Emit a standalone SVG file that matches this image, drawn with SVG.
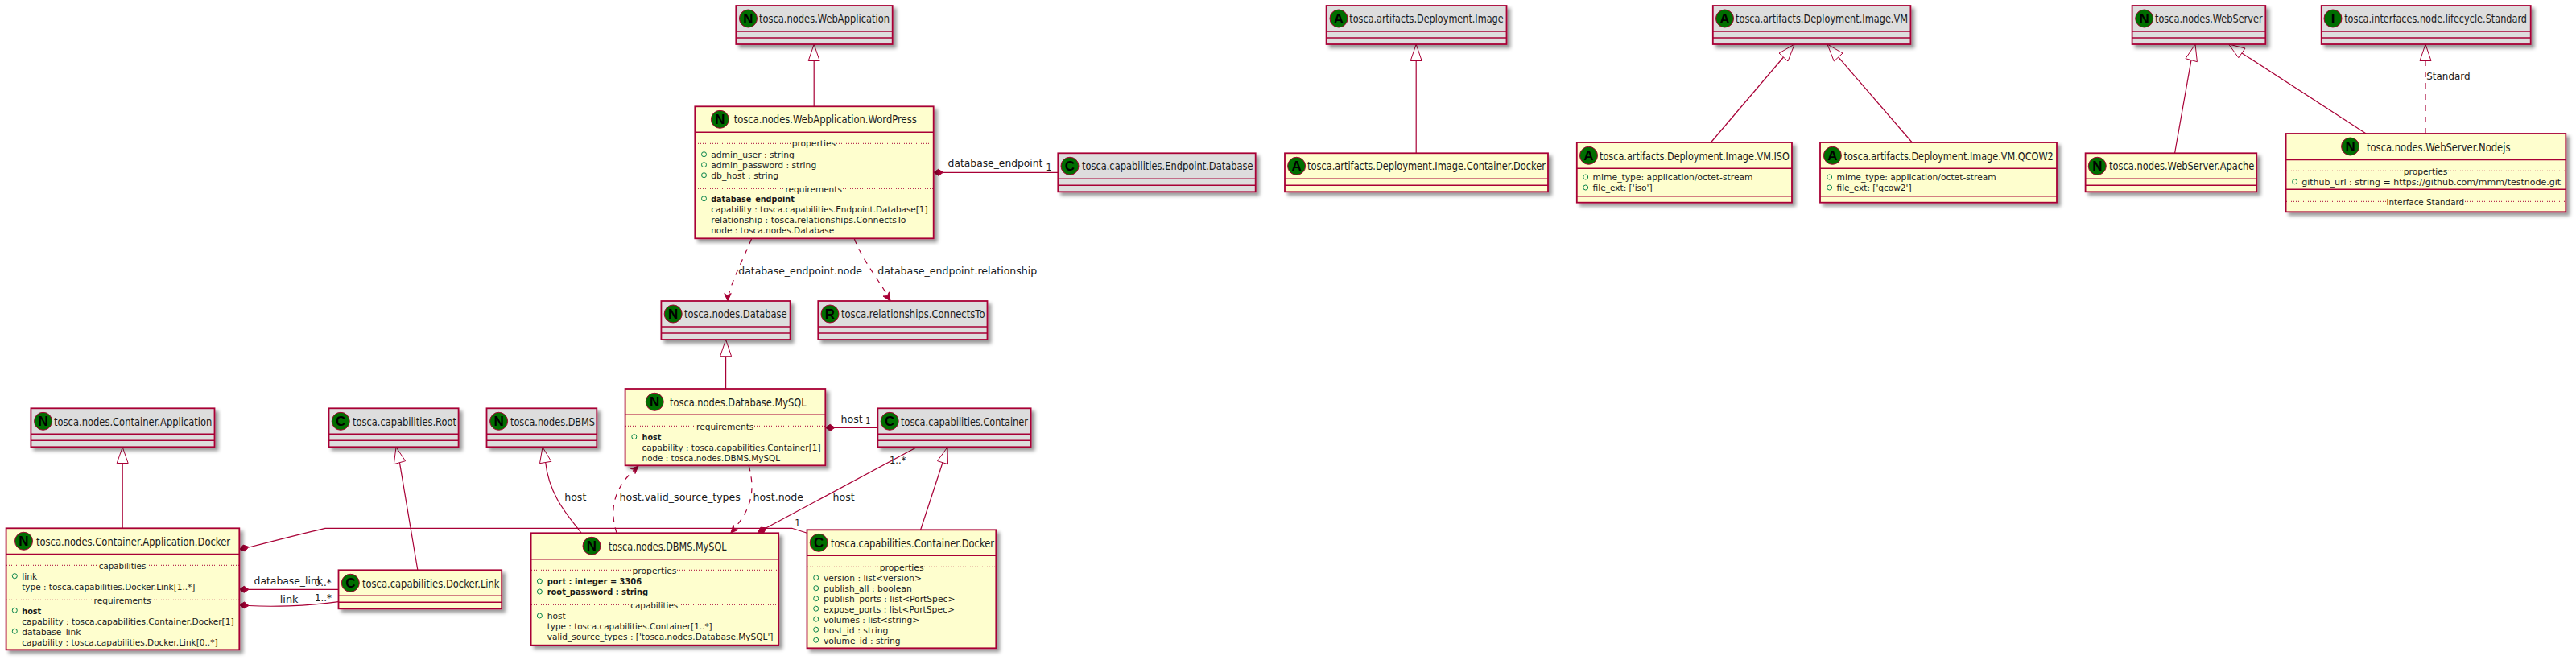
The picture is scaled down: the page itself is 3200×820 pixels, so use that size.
<svg xmlns="http://www.w3.org/2000/svg" width="3200" height="820" viewBox="0 0 3200 820">
<defs>
<filter id="sh" x="-5%" y="-10%" width="115%" height="130%"><feGaussianBlur in="SourceAlpha" stdDeviation="2" result="b"/><feColorMatrix in="b" type="matrix" values="0 0 0 0 0 0 0 0 0 0 0 0 0 0 0 0 0 0 0.4 0" result="c"/><feOffset in="c" dx="4" dy="4" result="o"/><feBlend in="SourceGraphic" in2="o" mode="normal"/></filter>
</defs>
<style>
.y,.g{stroke:#A80036;stroke-width:1.8;filter:url(#sh)}
.y{fill:#FEFECE}.g{fill:#DDDDDD}
.s{stroke:#A80036;stroke-width:1.6;fill:none}
.d{stroke:#A80036;stroke-width:1;stroke-dasharray:1,2;fill:none}
.o{fill:#006E00;stroke:#A80036;stroke-width:1}
text{font-family:"DejaVu Sans",Verdana,sans-serif;fill:#1a1a1a}
text.l{font:bold 17px "Liberation Sans",Arial,sans-serif;fill:#000;text-anchor:middle;transform:translateY(-1px)}
.t{font-size:14px}
.m{font-size:11px}
.b{font-size:11px;font-weight:bold}
.c{font-size:13px}
.p{fill:none;stroke:#038048;stroke-width:1}
.e{fill:none;stroke:#A80036;stroke-width:1.2}
.h{stroke-dasharray:7,7}
.w{fill:#FFFFFF;stroke:#A80036;stroke-width:1}
.f{fill:#A80036;stroke:#A80036;stroke-width:1}
</style>
<rect width="3200" height="820" fill="#FFFFFF"/>

<g id="connectors">
<path class="e" d="M1011.2,132 V75.5"/><polygon class="w" points="1011.2,55 1004.2,75.5 1018.2,75.5"/>
<path class="e" d="M1171.5,214.3 H1314"/><polygon class="f" points="1159.9,214.3 1165.7,210.3 1171.5,214.3 1165.7,218.3"/>
<text class="c" x="1177.6" y="207.3" textLength="117.8" lengthAdjust="spacingAndGlyphs">database_endpoint</text>
<text class="c" x="1299.5" y="211.7" textLength="7" lengthAdjust="spacingAndGlyphs">1</text>
<path class="e h" d="M933.7,296.5 C922,325 908,350 904,372"/><polygon class="f" points="904,374 899.8,364.5 904,367.5 908.2,364.5"/>
<text class="c" x="917.3" y="340.7" textLength="153.6" lengthAdjust="spacingAndGlyphs">database_endpoint.node</text>
<path class="e h" d="M1061.2,296.5 C1072,325 1095,352 1105,372"/><polygon class="f" points="1106,374 1097,368 1102.3,367.6 1104.5,362.8"/>
<text class="c" x="1090.3" y="340.7" textLength="198" lengthAdjust="spacingAndGlyphs">database_endpoint.relationship</text>

<path class="e" d="M152.2,656 V575.5"/><polygon class="w" points="152.2,555.5 145.2,575.5 159.2,575.5"/>
<path class="e" d="M518.8,708 L496.4,574.7"/><polygon class="w" points="492,555.5 489.3,576.7 503.6,572.7"/>
<path class="e" d="M722,662 C705,640 682,615 677.7,574.5"/><polygon class="w" points="674,555.5 670.5,575.7 684.8,573.3"/>
<text class="c" x="701.2" y="622.3" textLength="27.2" lengthAdjust="spacingAndGlyphs">host</text>

<path class="e" d="M309,680 C340,672 375,663 404,656.3 H983.8 L1002.5,662.3"/><polygon class="f" points="297.5,682.5 302.2,677.1 309,679.5 304.2,684.9"/>
<text class="c" x="987.3" y="654.3" textLength="7" lengthAdjust="spacingAndGlyphs">1</text>
<path class="e" d="M309,732.3 H420.5"/><polygon class="f" points="297.5,732.3 303.2,728.3 309,732.3 303.2,736.3"/>
<text class="c" x="315.6" y="726" textLength="85.3" lengthAdjust="spacingAndGlyphs">database_link</text>
<text class="c" x="390.6" y="728.3" textLength="21" lengthAdjust="spacingAndGlyphs">0..*</text>
<path class="e" d="M309,752.5 C335,754 380,753.5 420.5,747.7"/><polygon class="f" points="297.5,751.7 303.5,748 309,752.5 303.2,755.8"/>
<text class="c" x="347.8" y="749" textLength="22.7" lengthAdjust="spacingAndGlyphs">link</text>
<text class="c" x="391" y="746.7" textLength="21" lengthAdjust="spacingAndGlyphs">1..*</text>

<path class="e" d="M901.6,483 V442.7"/><polygon class="w" points="901.6,422 894.6,442.7 908.6,442.7"/>
<path class="e" d="M1037,531.3 H1090.4"/><polygon class="f" points="1025.5,531.3 1031.2,527.3 1037,531.3 1031.2,535.3"/>
<text class="c" x="1044.5" y="524.7" textLength="27.2" lengthAdjust="spacingAndGlyphs">host</text>
<text class="c" x="1075.3" y="527.3" textLength="6" lengthAdjust="spacingAndGlyphs">1</text>
<path class="e h" d="M766,662 C759,640 757,610 791,581"/><polygon class="f" points="793,579 789,588.5 788.5,583.5 783.5,582.5"/>
<text class="c" x="769.5" y="622.3" textLength="150.4" lengthAdjust="spacingAndGlyphs">host.valid_source_types</text>
<path class="e h" d="M930.2,578.5 C937,605 937,630 909,660"/><polygon class="f" points="907.9,662 911,652.3 912,657.3 917,658.3"/>
<text class="c" x="935.5" y="622.3" textLength="62.5" lengthAdjust="spacingAndGlyphs">host.node</text>
<path class="e" d="M1139,555.5 L952,655.8"/><polygon class="f" points="941.5,661.5 944.9,655.2 952,655.8 948.7,662.2"/>
<text class="c" x="1105" y="576" textLength="20.5" lengthAdjust="spacingAndGlyphs">1..*</text>
<text class="c" x="1034.6" y="622.3" textLength="27.2" lengthAdjust="spacingAndGlyphs">host</text>
<path class="e" d="M1143.6,658.3 L1171,574.7"/><polygon class="w" points="1177,555.5 1164.5,572.7 1177.5,576.7"/>

<path class="e" d="M1759.2,190 V75.5"/><polygon class="w" points="1759.2,55 1752.2,75.5 1766.2,75.5"/>
<path class="e" d="M2125.3,177 L2215.5,71"/><polygon class="w" points="2229.2,55 2210,66 2221,76"/>
<path class="e" d="M2375.3,177 L2283.7,71"/><polygon class="w" points="2270,55 2289,66 2278.3,76"/>
<path class="e" d="M2701.6,190 L2722,74.7"/><polygon class="w" points="2727,55 2715,72.7 2729.4,76.7"/>
<path class="e" d="M2939.2,166 L2785,66"/><polygon class="w" points="2768.6,55 2789,60 2780.8,71.7"/>
<path class="e h" d="M3013,166 V75.5"/><polygon class="w" points="3013,55 3006,75.5 3020,75.5"/>
<text class="c" x="3014.3" y="98.7" textLength="54.3" lengthAdjust="spacingAndGlyphs">Standard</text>
</g>

<g id="WebApplication">
<rect class="g" x="914.3" y="7" width="194.4" height="48"/><path class="s" d="M914.3,39 H1108.7 M914.3,47 H1108.7"/>
<circle class="o" cx="929.5" cy="23" r="11"/><text class="l" x="929.5" y="30">N</text>
<text class="t" x="943" y="28" textLength="162" lengthAdjust="spacingAndGlyphs">tosca.nodes.WebApplication</text>
</g>

<g id="WordPress">
<rect class="y" x="863.3" y="132.3" width="296.4" height="164"/><path class="s" d="M863.3,164.3 H1159.7"/>
<circle class="o" cx="894.4" cy="148.3" r="11"/><text class="l" x="894.4" y="155.3">N</text>
<text class="t" x="911.7" y="153.3" textLength="227" lengthAdjust="spacingAndGlyphs">tosca.nodes.WebApplication.WordPress</text>
<path class="d" d="M864,178.3 H983 M1039,178.3 H1159"/>
<text class="m" x="983.7" y="182.3" textLength="54.3" lengthAdjust="spacingAndGlyphs">properties</text>
<circle class="p" cx="874.5" cy="191.7" r="3"/><text class="m" x="883.2" y="196" textLength="103.6" lengthAdjust="spacingAndGlyphs">admin_user : string</text>
<circle class="p" cx="874.5" cy="204.7" r="3"/><text class="m" x="883.2" y="209" textLength="131" lengthAdjust="spacingAndGlyphs">admin_password : string</text>
<circle class="p" cx="874.5" cy="217.7" r="3"/><text class="m" x="883.2" y="222" textLength="84" lengthAdjust="spacingAndGlyphs">db_host : string</text>
<path class="d" d="M864,234.3 H975 M1047,234.3 H1159"/>
<text class="m" x="975.5" y="238.5" textLength="70.4" lengthAdjust="spacingAndGlyphs">requirements</text>
<circle class="p" cx="874.5" cy="246.7" r="3"/><text class="b" x="883.2" y="251" textLength="103.6" lengthAdjust="spacingAndGlyphs">database_endpoint</text>
<text class="m" x="883.2" y="264" textLength="269.4" lengthAdjust="spacingAndGlyphs">capability : tosca.capabilities.Endpoint.Database[1]</text>
<text class="m" x="883.2" y="277" textLength="242.3" lengthAdjust="spacingAndGlyphs">relationship : tosca.relationships.ConnectsTo</text>
<text class="m" x="883.2" y="290" textLength="153" lengthAdjust="spacingAndGlyphs">node : tosca.nodes.Database</text>
</g>

<g id="EndpointDatabase">
<rect class="g" x="1314.3" y="190.3" width="245.4" height="48"/><path class="s" d="M1314.3,222.3 H1559.7 M1314.3,230.3 H1559.7"/>
<circle class="o" cx="1329" cy="206.3" r="11"/><text class="l" x="1329" y="213.3">C</text>
<text class="t" x="1343.9" y="211.3" textLength="212.7" lengthAdjust="spacingAndGlyphs">tosca.capabilities.Endpoint.Database</text>
</g>

<g id="Database">
<rect class="g" x="821.4" y="374" width="160.2" height="48"/><path class="s" d="M821.4,406 H981.6 M821.4,414 H981.6"/>
<circle class="o" cx="836.2" cy="390" r="11"/><text class="l" x="836.2" y="397">N</text>
<text class="t" x="850" y="395" textLength="127.6" lengthAdjust="spacingAndGlyphs">tosca.nodes.Database</text>
</g>

<g id="ConnectsTo">
<rect class="g" x="1016.3" y="374" width="210.2" height="48"/><path class="s" d="M1016.3,406 H1226.5 M1016.3,414 H1226.5"/>
<circle class="o" cx="1031" cy="390" r="11"/><text class="l" x="1031" y="397">R</text>
<text class="t" x="1044.9" y="395" textLength="178.6" lengthAdjust="spacingAndGlyphs">tosca.relationships.ConnectsTo</text>
</g>

<g id="ContainerApplication">
<rect class="g" x="38.4" y="507.3" width="228.1" height="48"/><path class="s" d="M38.4,539.3 H266.5 M38.4,547.3 H266.5"/>
<circle class="o" cx="53.6" cy="523.3" r="11"/><text class="l" x="53.6" y="530.3">N</text>
<text class="t" x="67" y="528.5" textLength="196.4" lengthAdjust="spacingAndGlyphs">tosca.nodes.Container.Application</text>
</g>

<g id="CapabilitiesRoot">
<rect class="g" x="408.5" y="507.3" width="161.1" height="48"/><path class="s" d="M408.5,539.3 H569.6 M408.5,547.3 H569.6"/>
<circle class="o" cx="423.2" cy="523.3" r="11"/><text class="l" x="423.2" y="530.3">C</text>
<text class="t" x="438" y="528.5" textLength="129" lengthAdjust="spacingAndGlyphs">tosca.capabilities.Root</text>
</g>

<g id="DBMS">
<rect class="g" x="604.5" y="507.3" width="136.8" height="48"/><path class="s" d="M604.5,539.3 H741.3 M604.5,547.3 H741.3"/>
<circle class="o" cx="619.6" cy="523.3" r="11"/><text class="l" x="619.6" y="530.3">N</text>
<text class="t" x="634" y="528.5" textLength="105" lengthAdjust="spacingAndGlyphs">tosca.nodes.DBMS</text>
</g>

<g id="ApplicationDocker">
<rect class="y" x="7.6" y="656.3" width="289.7" height="151"/><path class="s" d="M7.6,688.5 H297.3"/>
<circle class="o" cx="29.5" cy="672.3" r="11"/><text class="l" x="29.5" y="679.3">N</text>
<text class="t" x="45" y="677.5" textLength="241" lengthAdjust="spacingAndGlyphs">tosca.nodes.Container.Application.Docker</text>
<path class="d" d="M8,702.3 H122 M182,702.3 H297"/>
<text class="m" x="122.8" y="706.5" textLength="58.5" lengthAdjust="spacingAndGlyphs">capabilities</text>
<circle class="p" cx="18.3" cy="715.7" r="3"/><text class="m" x="27.2" y="720" textLength="19.2" lengthAdjust="spacingAndGlyphs">link</text>
<text class="m" x="27.2" y="733" textLength="215.2" lengthAdjust="spacingAndGlyphs">type : tosca.capabilities.Docker.Link[1..*]</text>
<path class="d" d="M8,745.3 H116 M188,745.3 H297"/>
<text class="m" x="116.5" y="749.5" textLength="71" lengthAdjust="spacingAndGlyphs">requirements</text>
<circle class="p" cx="18.3" cy="758.3" r="3"/><text class="b" x="27.2" y="763" textLength="24.1" lengthAdjust="spacingAndGlyphs">host</text>
<text class="m" x="27.2" y="776" textLength="263.4" lengthAdjust="spacingAndGlyphs">capability : tosca.capabilities.Container.Docker[1]</text>
<circle class="p" cx="18.3" cy="784.3" r="3"/><text class="m" x="27.2" y="789" textLength="73.2" lengthAdjust="spacingAndGlyphs">database_link</text>
<text class="m" x="27.2" y="802" textLength="243.3" lengthAdjust="spacingAndGlyphs">capability : tosca.capabilities.Docker.Link[0..*]</text>
</g>

<g id="DockerLink">
<rect class="y" x="420.5" y="708.3" width="202.7" height="48"/><path class="s" d="M420.5,740.3 H623.2 M420.5,748.3 H623.2"/>
<circle class="o" cx="435.3" cy="724.3" r="11"/><text class="l" x="435.3" y="731.3">C</text>
<text class="t" x="450" y="729.5" textLength="170.5" lengthAdjust="spacingAndGlyphs">tosca.capabilities.Docker.Link</text>
</g>

<g id="DatabaseMySQL">
<rect class="y" x="776.6" y="483" width="248.7" height="95.3"/><path class="s" d="M776.6,515.3 H1025.3"/>
<circle class="o" cx="813.2" cy="499.3" r="11"/><text class="l" x="813.2" y="506.3">N</text>
<text class="t" x="832" y="504.5" textLength="169.6" lengthAdjust="spacingAndGlyphs">tosca.nodes.Database.MySQL</text>
<path class="d" d="M777,529.3 H864 M937,529.3 H1025"/>
<text class="m" x="865" y="533.5" textLength="71.4" lengthAdjust="spacingAndGlyphs">requirements</text>
<circle class="p" cx="787.8" cy="542.7" r="3"/><text class="b" x="797.6" y="547" textLength="23.7" lengthAdjust="spacingAndGlyphs">host</text>
<text class="m" x="797.6" y="560" textLength="221.9" lengthAdjust="spacingAndGlyphs">capability : tosca.capabilities.Container[1]</text>
<text class="m" x="797.6" y="573" textLength="171.4" lengthAdjust="spacingAndGlyphs">node : tosca.nodes.DBMS.MySQL</text>
</g>

<g id="Container">
<rect class="g" x="1090.4" y="507.3" width="190.2" height="48"/><path class="s" d="M1090.4,539.3 H1280.6 M1090.4,547.3 H1280.6"/>
<circle class="o" cx="1105.2" cy="523.3" r="11"/><text class="l" x="1105.2" y="530.3">C</text>
<text class="t" x="1119" y="528.5" textLength="158" lengthAdjust="spacingAndGlyphs">tosca.capabilities.Container</text>
</g>

<g id="DBMSMySQL">
<rect class="y" x="659.6" y="662.3" width="307.6" height="139.4"/><path class="s" d="M659.6,694.7 H967.2"/>
<circle class="o" cx="735" cy="678.3" r="11"/><text class="l" x="735" y="685.3">N</text>
<text class="t" x="756" y="683.5" textLength="146.5" lengthAdjust="spacingAndGlyphs">tosca.nodes.DBMS.MySQL</text>
<path class="d" d="M660,708.3 H785 M841,708.3 H967"/>
<text class="m" x="785.5" y="712.5" textLength="54.9" lengthAdjust="spacingAndGlyphs">properties</text>
<circle class="p" cx="670.4" cy="722" r="3"/><text class="b" x="679.7" y="726" textLength="117.4" lengthAdjust="spacingAndGlyphs">port : integer = 3306</text>
<circle class="p" cx="670.4" cy="735" r="3"/><text class="b" x="679.7" y="739" textLength="125.4" lengthAdjust="spacingAndGlyphs">root_password : string</text>
<path class="d" d="M660,751.3 H783 M843,751.3 H967"/>
<text class="m" x="783.3" y="755.5" textLength="58.9" lengthAdjust="spacingAndGlyphs">capabilities</text>
<circle class="p" cx="670.4" cy="765" r="3"/><text class="m" x="679.7" y="769" textLength="23" lengthAdjust="spacingAndGlyphs">host</text>
<text class="m" x="679.7" y="782" textLength="205" lengthAdjust="spacingAndGlyphs">type : tosca.capabilities.Container[1..*]</text>
<text class="m" x="679.7" y="795" textLength="280.8" lengthAdjust="spacingAndGlyphs">valid_source_types : ['tosca.nodes.Database.MySQL']</text>
</g>

<g id="ContainerDocker">
<rect class="y" x="1002.5" y="658.3" width="234.8" height="147"/><path class="s" d="M1002.5,690.3 H1237.3"/>
<circle class="o" cx="1017.2" cy="674.3" r="11"/><text class="l" x="1017.2" y="681.3">C</text>
<text class="t" x="1032" y="679.5" textLength="203" lengthAdjust="spacingAndGlyphs">tosca.capabilities.Container.Docker</text>
<path class="d" d="M1003,704.3 H1092 M1148,704.3 H1237"/>
<text class="m" x="1092.7" y="708.5" textLength="54.9" lengthAdjust="spacingAndGlyphs">properties</text>
<circle class="p" cx="1013.7" cy="717.7" r="3"/><text class="m" x="1023" y="722" textLength="121.9" lengthAdjust="spacingAndGlyphs">version : list&lt;version&gt;</text>
<circle class="p" cx="1013.7" cy="730.7" r="3"/><text class="m" x="1023" y="735" textLength="109.8" lengthAdjust="spacingAndGlyphs">publish_all : boolean</text>
<circle class="p" cx="1013.7" cy="743.7" r="3"/><text class="m" x="1023" y="748" textLength="163.4" lengthAdjust="spacingAndGlyphs">publish_ports : list&lt;PortSpec&gt;</text>
<circle class="p" cx="1013.7" cy="756.2" r="3"/><text class="m" x="1023" y="760.5" textLength="162.9" lengthAdjust="spacingAndGlyphs">expose_ports : list&lt;PortSpec&gt;</text>
<circle class="p" cx="1013.7" cy="769.2" r="3"/><text class="m" x="1023" y="773.5" textLength="119.2" lengthAdjust="spacingAndGlyphs">volumes : list&lt;string&gt;</text>
<circle class="p" cx="1013.7" cy="782.2" r="3"/><text class="m" x="1023" y="786.5" textLength="80.4" lengthAdjust="spacingAndGlyphs">host_id : string</text>
<circle class="p" cx="1013.7" cy="795.2" r="3"/><text class="m" x="1023" y="799.5" textLength="95.5" lengthAdjust="spacingAndGlyphs">volume_id : string</text>
</g>

<g id="DeploymentImage">
<rect class="g" x="1647.6" y="7" width="223.9" height="48"/><path class="s" d="M1647.6,39 H1871.5 M1647.6,47 H1871.5"/>
<circle class="o" cx="1663" cy="23" r="11"/><text class="l" x="1663" y="30">A</text>
<text class="t" x="1676.3" y="28" textLength="191.3" lengthAdjust="spacingAndGlyphs">tosca.artifacts.Deployment.Image</text>
</g>

<g id="ImageContainerDocker">
<rect class="y" x="1596" y="190.3" width="327" height="48"/><path class="s" d="M1596,222.3 H1923 M1596,230.3 H1923"/>
<circle class="o" cx="1610.6" cy="206.3" r="11"/><text class="l" x="1610.6" y="213.3">A</text>
<text class="t" x="1624" y="211.3" textLength="296" lengthAdjust="spacingAndGlyphs">tosca.artifacts.Deployment.Image.Container.Docker</text>
</g>

<g id="ImageVM">
<rect class="g" x="2127.8" y="7" width="245.6" height="48"/><path class="s" d="M2127.8,39 H2373.4 M2127.8,47 H2373.4"/>
<circle class="o" cx="2142.5" cy="23" r="11"/><text class="l" x="2142.5" y="30">A</text>
<text class="t" x="2156" y="28" textLength="214" lengthAdjust="spacingAndGlyphs">tosca.artifacts.Deployment.Image.VM</text>
</g>

<g id="ImageVMISO">
<rect class="y" x="1958.8" y="177" width="267.2" height="74.7"/><path class="s" d="M1958.8,209.3 H2226 M1958.8,243.7 H2226"/>
<circle class="o" cx="1973.5" cy="193.3" r="11"/><text class="l" x="1973.5" y="200.3">A</text>
<text class="t" x="1987" y="198.5" textLength="235.9" lengthAdjust="spacingAndGlyphs">tosca.artifacts.Deployment.Image.VM.ISO</text>
<circle class="p" cx="1969.7" cy="220" r="3"/><text class="m" x="1978.6" y="224.3" textLength="199" lengthAdjust="spacingAndGlyphs">mime_type: application/octet-stream</text>
<circle class="p" cx="1969.7" cy="233" r="3"/><text class="m" x="1978.6" y="237.3" textLength="74" lengthAdjust="spacingAndGlyphs">file_ext: ['iso']</text>
</g>

<g id="ImageVMQCOW2">
<rect class="y" x="2261" y="177" width="294" height="74.7"/><path class="s" d="M2261,209.3 H2555 M2261,243.7 H2555"/>
<circle class="o" cx="2276.4" cy="193.3" r="11"/><text class="l" x="2276.4" y="200.3">A</text>
<text class="t" x="2290.5" y="198.5" textLength="260.2" lengthAdjust="spacingAndGlyphs">tosca.artifacts.Deployment.Image.VM.QCOW2</text>
<circle class="p" cx="2272.6" cy="220" r="3"/><text class="m" x="2281.5" y="224.3" textLength="198.3" lengthAdjust="spacingAndGlyphs">mime_type: application/octet-stream</text>
<circle class="p" cx="2272.6" cy="233" r="3"/><text class="m" x="2281.5" y="237.3" textLength="93" lengthAdjust="spacingAndGlyphs">file_ext: ['qcow2']</text>
</g>

<g id="WebServer">
<rect class="g" x="2648.6" y="7" width="165.7" height="48"/><path class="s" d="M2648.6,39 H2814.3 M2648.6,47 H2814.3"/>
<circle class="o" cx="2663.7" cy="23" r="11"/><text class="l" x="2663.7" y="30">N</text>
<text class="t" x="2677" y="28" textLength="133.6" lengthAdjust="spacingAndGlyphs">tosca.nodes.WebServer</text>
</g>

<g id="LifecycleStandard">
<rect class="g" x="2883.7" y="7" width="260" height="48"/><path class="s" d="M2883.7,39 H3143.7 M2883.7,47 H3143.7"/>
<circle class="o" cx="2898" cy="23" r="11"/><text class="l" x="2898" y="30">I</text>
<text class="t" x="2912.2" y="28" textLength="226.8" lengthAdjust="spacingAndGlyphs">tosca.interfaces.node.lifecycle.Standard</text>
</g>

<g id="Apache">
<rect class="y" x="2590.6" y="190.3" width="212.7" height="48"/><path class="s" d="M2590.6,222.3 H2803.3 M2590.6,230.3 H2803.3"/>
<circle class="o" cx="2605.3" cy="206.3" r="11"/><text class="l" x="2605.3" y="213.3">N</text>
<text class="t" x="2620" y="211.3" textLength="180.4" lengthAdjust="spacingAndGlyphs">tosca.nodes.WebServer.Apache</text>
</g>

<g id="Nodejs">
<rect class="y" x="2839.6" y="166" width="347.7" height="97.3"/><path class="s" d="M2839.6,198.5 H3187.3 M2839.6,235.3 H3187.3"/>
<circle class="o" cx="2919.6" cy="182" r="11"/><text class="l" x="2919.6" y="189">N</text>
<text class="t" x="2940" y="187.5" textLength="178.4" lengthAdjust="spacingAndGlyphs">tosca.nodes.WebServer.Nodejs</text>
<path class="d" d="M2840,212.3 H2985 M3041,212.3 H3187"/>
<text class="m" x="2985.7" y="216.5" textLength="54.7" lengthAdjust="spacingAndGlyphs">properties</text>
<circle class="p" cx="2850.6" cy="225.7" r="3"/><text class="m" x="2859.2" y="230" textLength="322" lengthAdjust="spacingAndGlyphs">github_url : string = https://github.com/mmm/testnode.git</text>
<path class="d" d="M2840,250.3 H2964 M3062,250.3 H3187"/>
<text class="m" x="2964.5" y="254.5" textLength="96.7" lengthAdjust="spacingAndGlyphs">interface Standard</text>
</g>
</svg>
